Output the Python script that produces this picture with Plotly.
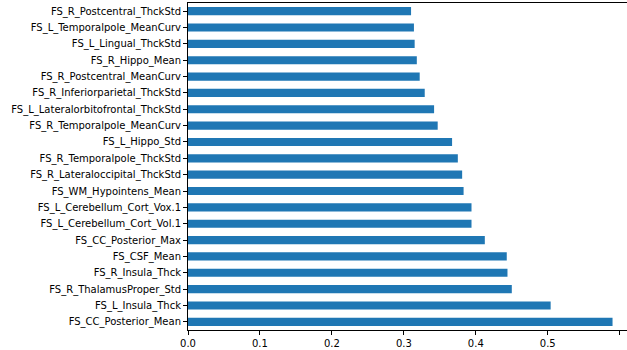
import plotly.graph_objects as go

features = [
    "FS_CC_Posterior_Mean", "FS_L_Insula_Thck", "FS_R_ThalamusProper_Std",
    "FS_R_Insula_Thck", "FS_CSF_Mean", "FS_CC_Posterior_Max",
    "FS_L_Cerebellum_Cort_Vol.1", "FS_L_Cerebellum_Cort_Vox.1",
    "FS_WM_Hypointens_Mean", "FS_R_Lateraloccipital_ThckStd",
    "FS_R_Temporalpole_ThckStd", "FS_L_Hippo_Std",
    "FS_R_Temporalpole_MeanCurv", "FS_L_Lateralorbitofrontal_ThckStd",
    "FS_R_Inferiorparietal_ThckStd", "FS_R_Postcentral_MeanCurv",
    "FS_R_Hippo_Mean", "FS_L_Lingual_ThckStd", "FS_L_Temporalpole_MeanCurv",
    "FS_R_Postcentral_ThckStd",
]
importance = [
    0.590, 0.504, 0.450, 0.444, 0.443, 0.4125,
    0.394, 0.394, 0.383, 0.381, 0.375, 0.367,
    0.347, 0.342, 0.329, 0.322, 0.318, 0.315, 0.314, 0.310,
]
x_ticks = [0.0, 0.1, 0.2, 0.3, 0.4, 0.5, 0.6]
x_tick_text = ["0.0", "0.1", "0.2", "0.3", "0.4", "0.5", "0.6"]

FONT = "DejaVu Sans, Verdana, sans-serif"
FS = 10

fig = go.Figure(go.Bar(
    x=importance, y=features, orientation="h",
    marker=dict(color="#1f77b4", line=dict(width=0)),
))

fig.update_layout(
    width=627, height=350,
    margin=dict(l=188, r=0, t=3, b=20, autoexpand=False),
    paper_bgcolor="white", plot_bgcolor="white",
    bargap=0.5,
    showlegend=False,
    font=dict(family=FONT, size=FS, color="black"),
)
fig.update_xaxes(
    range=[0, 0.6101], tickvals=x_ticks, ticktext=x_tick_text,
    showgrid=False, zeroline=False,
    showline=True, linecolor="black", linewidth=1, mirror=True,
    ticks="outside", ticklen=4, tickcolor="black", tickwidth=1,
    tickfont=dict(family=FONT, size=FS, color="black"),
    automargin=False,
)
fig.update_yaxes(
    type="category", range=[-0.5, 19.5],
    showgrid=False, zeroline=False,
    showline=True, linecolor="black", linewidth=1,
    ticks="outside", ticklen=4, tickcolor="black", tickwidth=1,
    tickfont=dict(family=FONT, size=FS, color="black"),
    automargin=False,
)

fig.write_html(
    "out.html",
    config={"displayModeBar": False},
    post_script="document.body.style.margin='0';document.body.style.padding='0';"
)
